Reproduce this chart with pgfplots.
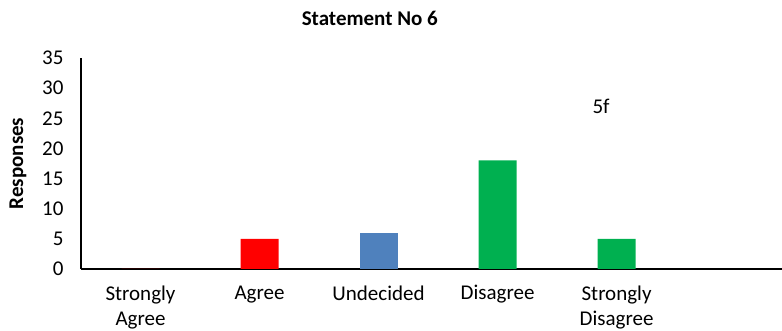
\documentclass[border=0pt]{standalone}
\usepackage{fontspec}
\setmainfont{Carlito}
\usepackage{pgfplots}
\pgfplotsset{compat=1.18}
\definecolor{cred}{HTML}{FF0000}
\definecolor{cblue}{HTML}{4F81BD}
\definecolor{cgreen}{HTML}{00B050}
\begin{document}
\begin{tikzpicture}
\begin{axis}[
  scale only axis, width=701pt, height=211pt,
  xmin=-0.5, xmax=5.39, ymin=0, ymax=35,
  axis x line=bottom, axis y line=left,
  axis line style={-, line width=1.3pt, black},
  ytick={0,5,...,35}, xtick={0,1,2,3,4},
  xticklabels={{Strongly\\Agree},Agree,Undecided,Disagree,{Strongly\\Disagree}},
  xticklabel style={align=center, anchor=north, yshift=-13pt, font=\fontsize{21}{25}\selectfont},
  yticklabel style={xshift=-14pt},
  major tick length=0pt,
  font=\fontsize{21}{27}\selectfont,
  /pgf/number format/assume math mode=true,
  title={\bfseries Statement No 6},
  title style={at={(rel axis cs:0.412,1)}, anchor=base, yshift=26pt},
  ybar, bar width=38pt, bar shift=0pt,
  clip=false,
]
\coordinate (sw) at (rel axis cs:0,0);
\coordinate (ne) at (rel axis cs:1,1);
\addplot[draw=none, fill=cred] coordinates {(0,0) (1,5)};
\addplot[draw=none, fill=cblue] coordinates {(2,6)};
\addplot[draw=none, fill=cgreen] coordinates {(3,18) (4,5)};
\node[font=\fontsize{21}{25}\selectfont] at (axis cs:3.87,26.9) {5f};
\node[rotate=90, font=\fontsize{21}{25}\selectfont\bfseries] at ([xshift=-63pt]rel axis cs:0,0.5) {Responses};
\end{axis}
\pgfresetboundingbox
\path ([xshift=-81pt,yshift=-62pt]sw) rectangle ([yshift=58pt]ne);
\end{tikzpicture}
\end{document}
